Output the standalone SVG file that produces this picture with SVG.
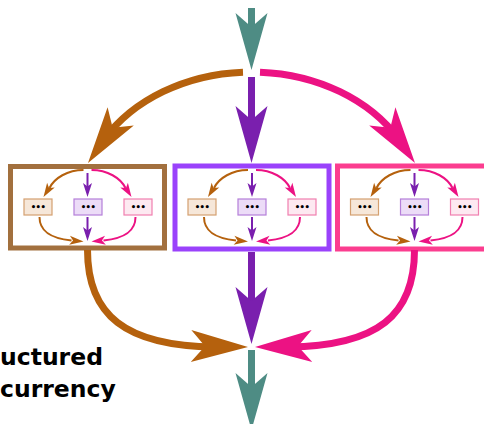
<svg xmlns="http://www.w3.org/2000/svg" xmlns:xlink="http://www.w3.org/1999/xlink" width="484" height="424" viewBox="0 0 484 424">
  <style>
    .big { fill: none; stroke-width: 7; stroke-linecap: butt; }
    .small { fill: none; stroke-width: 2; stroke-linecap: butt; }
    .teal { stroke: #4e8c84; fill: #4e8c84; }
    .orange { stroke: #b5610d; }
    .purple { stroke: #7a1fae; }
    .pink { stroke: #ec1283; }
    .h-teal { fill: #4e8c84; }
    .h-orange { fill: #b5610d; }
    .h-purple { fill: #7a1fae; }
    .h-pink { fill: #ec1283; }
    .frame { fill: none; stroke-width: 5; }
    .task { stroke-width: 1.2; }
    .dots { font-family: "DejaVu Sans", sans-serif; font-size: 8.5px; font-weight: bold; letter-spacing: -0.6px; fill: #000; text-anchor: middle; }
    .title { font-family: "DejaVu Sans", "Liberation Sans", sans-serif; font-size: 23.5px; font-weight: bold; fill: #000; }
  </style>
  <defs>
    <!-- notched arrowheads pointing along +x, tip at the origin -->
    <path id="head" d="M0,0 L-57,-16 L-43,0 L-57,16 Z"/>
    <path id="head-s" d="M0,0 L-14,-4.5 L-10.5,0 L-14,4.5 Z"/>
    <!-- fork/join flow drawn inside each branch, relative to its centre x -->
    <g id="inner-flow">
      <path class="small orange" d="M-4,170 C-20,170 -33,178 -38,188"/>
      <path class="small purple" d="M0,173 L0,188"/>
      <path class="small pink" d="M4,170 C20,170 33,178 38,188"/>
      <use xlink:href="#head-s" class="h-orange" transform="translate(-44,197) rotate(122)"/>
      <use xlink:href="#head-s" class="h-purple" transform="translate(0,197) rotate(90)"/>
      <use xlink:href="#head-s" class="h-pink" transform="translate(44,197) rotate(58)"/>
      <path class="small orange" d="M-48,217 C-48,230 -39,238 -16,240.5"/>
      <path class="small purple" d="M0,217 L0,233"/>
      <path class="small pink" d="M48,217 C48,230 39,238 16,240.5"/>
      <use xlink:href="#head-s" class="h-orange" transform="translate(-4,241.5) rotate(5)"/>
      <use xlink:href="#head-s" class="h-purple" transform="translate(0,241) rotate(90)"/>
      <use xlink:href="#head-s" class="h-pink" transform="translate(4,241.5) rotate(175)"/>
    </g>
  </defs>

  <rect width="484" height="424" fill="#ffffff"/>

  <!-- branch frames with their three tasks -->
  <g id="branch-left">
    <rect class="frame" x="10.5" y="166.5" width="154" height="81.5" stroke="#a2703e"/>
    <g id="left-task-a"><rect class="task" x="24" y="199" width="28" height="16" fill="#f6e7d9" stroke="#d4a070"/><text class="dots" x="38" y="210">•••</text></g>
    <g id="left-task-b"><rect class="task" x="74" y="199" width="28" height="16" fill="#ecdcf7" stroke="#b57fd9"/><text class="dots" x="88" y="210">•••</text></g>
    <g id="left-task-c"><rect class="task" x="124" y="199" width="28" height="16" fill="#fde9f1" stroke="#f07fb0"/><text class="dots" x="138" y="210">•••</text></g>
  </g>
  <g id="branch-middle">
    <rect class="frame" x="175" y="166" width="154" height="83" stroke="#9a42fb"/>
    <g id="middle-task-a"><rect class="task" x="188" y="199" width="28" height="16" fill="#f6e7d9" stroke="#d4a070"/><text class="dots" x="202" y="210">•••</text></g>
    <g id="middle-task-b"><rect class="task" x="238" y="199" width="28" height="16" fill="#ecdcf7" stroke="#b57fd9"/><text class="dots" x="252" y="210">•••</text></g>
    <g id="middle-task-c"><rect class="task" x="288" y="199" width="28" height="16" fill="#fde9f1" stroke="#f07fb0"/><text class="dots" x="302" y="210">•••</text></g>
  </g>
  <g id="branch-right">
    <rect class="frame" x="337.5" y="166" width="154" height="83" stroke="#fb3d8f"/>
    <g id="right-task-a"><rect class="task" x="350.5" y="199" width="28" height="16" fill="#f6e7d9" stroke="#d4a070"/><text class="dots" x="364.5" y="210">•••</text></g>
    <g id="right-task-b"><rect class="task" x="400.5" y="199" width="28" height="16" fill="#ecdcf7" stroke="#b57fd9"/><text class="dots" x="414.5" y="210">•••</text></g>
    <g id="right-task-c"><rect class="task" x="450.5" y="199" width="28" height="16" fill="#fde9f1" stroke="#f07fb0"/><text class="dots" x="464.5" y="210">•••</text></g>
  </g>

  <g id="connectors">
    <!-- incoming flow and fork -->
    <path class="big teal" d="M251.5,8 L251.5,45"/>
    <use xlink:href="#head" class="h-teal" transform="translate(251.5,70) rotate(90)"/>
    <path class="big orange" d="M243,72.2 A171,138 0 0 0 104,139.5"/>
    <use xlink:href="#head" class="h-orange" transform="translate(88,163) rotate(125)"/>
    <path class="big purple" d="M251.5,77 L251.5,135"/>
    <use xlink:href="#head" class="h-purple" transform="translate(251.5,163) rotate(90)"/>
    <path class="big pink" d="M260,72.2 A171,138 0 0 1 399,139.5"/>
    <use xlink:href="#head" class="h-pink" transform="translate(415,163) rotate(55)"/>

    <!-- fork/join inside each branch -->
    <use xlink:href="#inner-flow" transform="translate(87.5,0)"/>
    <use xlink:href="#inner-flow" transform="translate(252,0)"/>
    <use xlink:href="#inner-flow" transform="translate(414.5,0)"/>

    <!-- join and outgoing flow -->
    <path class="big orange" d="M87.5,250 C87.5,315 125,346 215,347"/>
    <use xlink:href="#head" class="h-orange" transform="translate(248,347) rotate(1)"/>
    <path class="big purple" d="M251.5,252 L251.5,315"/>
    <use xlink:href="#head" class="h-purple" transform="translate(251.5,344) rotate(90)"/>
    <path class="big pink" d="M414.5,250 C414.5,315 378,346 288,347"/>
    <use xlink:href="#head" class="h-pink" transform="translate(255,347) rotate(179)"/>
    <path class="big teal" d="M251.5,350 L251.5,405"/>
    <use xlink:href="#head" class="h-teal" transform="translate(251.5,430) rotate(90)"/>
  </g>

  <text class="title" x="0" y="365">uctured</text>
  <text class="title" x="0" y="397">currency</text>
</svg>
